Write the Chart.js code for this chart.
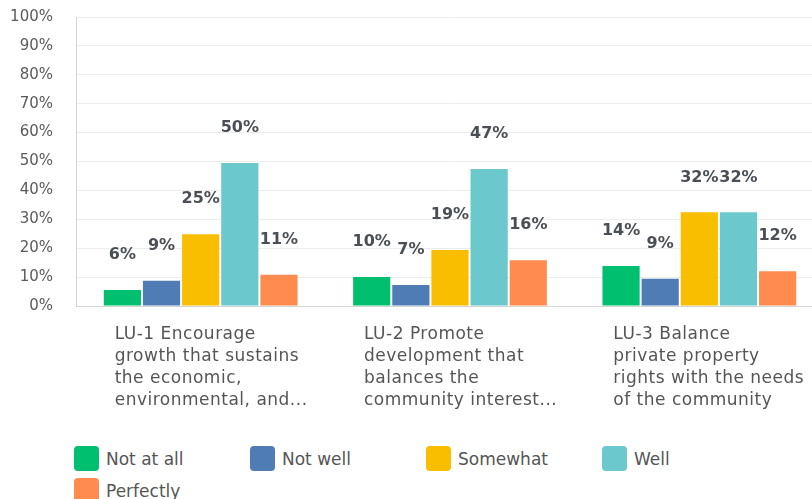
<!DOCTYPE html>
<html>
<head>
<meta charset="utf-8">
<script src="https://cdn.jsdelivr.net/npm/chart.js@4/dist/chart.umd.min.js"></script>
<style>
  html, body { margin: 0; background: #fff; overflow: hidden; }
  #wrap { position: relative; width: 824px; height: 440px; }
  #legend { position: absolute; left: 74px; top: 446px; width: 738px; font-family: "DejaVu Sans", sans-serif; }
  .item { display: inline-block; width: 176px; height: 32px; vertical-align: top; font-size: 17px; color: #555; }
  .box { display: inline-block; width: 25px; height: 25px; border-radius: 4px; vertical-align: middle; margin-right: 7px; }
  .item span.t { vertical-align: middle; }
</style>
</head>
<body>
<div id="wrap"><canvas id="chart"></canvas></div>
<div id="legend"></div>
<script>
const categories = [
  ['LU-1 Encourage', 'growth that sustains', 'the economic,', 'environmental, and...'],
  ['LU-2 Promote', 'development that', 'balances the', 'community interest...'],
  ['LU-3 Balance', 'private property', 'rights with the needs', 'of the community']
];
const seriesNames = ['Not at all', 'Not well', 'Somewhat', 'Well', 'Perfectly'];
const seriesColors = ['#00bf6f', '#507cb6', '#f9be00', '#6bc8cd', '#ff8b4f'];
const notAtAll = [5.5, 10.0, 13.8];
const notWell = [8.7, 7.3, 9.4];
const somewhat = [24.8, 19.4, 32.4];
const well = [49.5, 47.4, 32.4];
const perfectly = [10.8, 15.8, 12.0];
const yTicks = [0, 10, 20, 30, 40, 50, 60, 70, 80, 90, 100];

const allValues = [notAtAll, notWell, somewhat, well, perfectly];

// value labels above the bars and wrapped category labels under the axis
const barLabels = {
  id: 'barLabels',
  afterDatasetsDraw(chart) {
    const ctx = chart.ctx;
    ctx.save();
    ctx.font = 'bold 16px "DejaVu Sans", sans-serif';
    ctx.fillStyle = '#4a4f55';
    ctx.textAlign = 'center';
    ctx.textBaseline = 'middle';
    chart.data.datasets.forEach((ds, i) => {
      chart.getDatasetMeta(i).data.forEach((bar, j) => {
        ctx.fillText(Math.round(ds.data[j]) + '%', bar.x, bar.y - 35);
      });
    });
    const xs = chart.scales.x;
    ctx.font = '17px "DejaVu Sans", sans-serif';
    ctx.letterSpacing = '0.5px';
    ctx.fillStyle = '#555';
    ctx.textAlign = 'left';
    categories.forEach((lines, i) => {
      const x = xs.getPixelForValue(i) - 86;
      lines.forEach((t, k) => ctx.fillText(t, x, xs.top + 29 + k * 21.7));
    });
    ctx.restore();
  }
};

new Chart(document.getElementById('chart'), {
  type: 'bar',
  data: {
    labels: categories.map(c => c.join(' ')),
    datasets: seriesNames.map((name, i) => ({
      label: name,
      data: allValues[i],
      backgroundColor: seriesColors[i],
      categoryPercentage: 0.785,
      barPercentage: 0.95
    }))
  },
  options: {
    responsive: true,
    maintainAspectRatio: false,
    animation: false,
    layout: { padding: 0 },
    plugins: { legend: { display: false }, tooltip: { enabled: false } },
    scales: {
      x: {
        grid: { display: false },
        border: { color: '#d5d5d5' },
        ticks: { display: false },
        afterFit(axis) { axis.height = 134; }
      },
      y: {
        min: 0,
        max: 100,
        afterBuildTicks(axis) { axis.ticks = yTicks.map(v => ({ value: v })); },
        afterFit(axis) { axis.width = 76; axis.paddingTop = 17; },
        grid: { color: '#ededed', drawTicks: false },
        border: { color: '#d5d5d5' },
        ticks: {
          padding: 23,
          color: '#5a5a5a',
          font: { family: '"DejaVu Sans", sans-serif', size: 15 },
          callback: v => v + '%'
        }
      }
    }
  },
  plugins: [barLabels]
});

const legend = document.getElementById('legend');
seriesNames.forEach((name, i) => {
  const d = document.createElement('div');
  d.className = 'item';
  d.innerHTML = '<span class="box" style="background:' + seriesColors[i] + '"></span><span class="t">' + name + '</span>';
  legend.appendChild(d);
});
</script>
</body>
</html>
